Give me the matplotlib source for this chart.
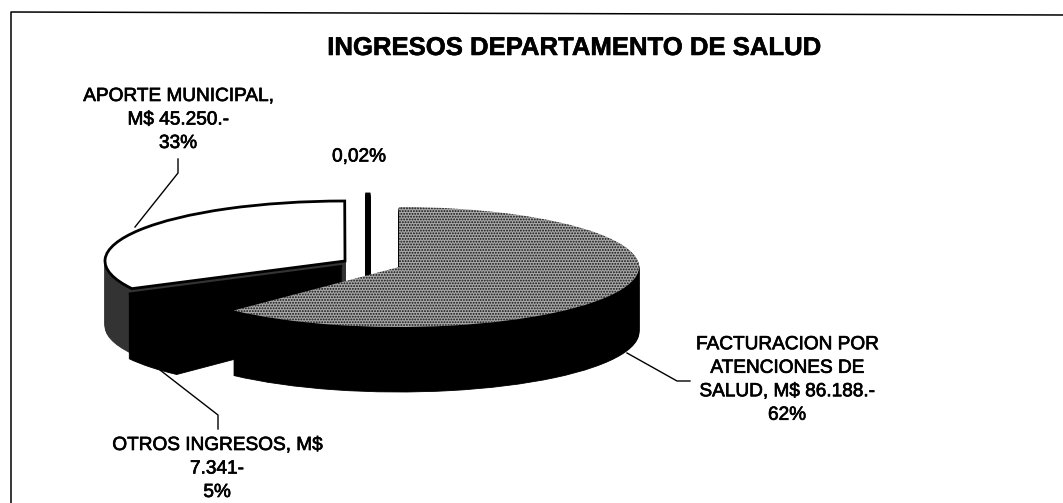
import matplotlib
matplotlib.use("Agg")
import matplotlib.pyplot as plt
import matplotlib.patheffects as pe

plt.rcParams['font.family'] = ['Liberation Sans', 'DejaVu Sans']
plt.rcParams['hatch.linewidth'] = 0.9

categories = ["FACTURACION POR\nATENCIONES DE\nSALUD, M$ 86.188.-\n62%",
              "OTROS INGRESOS, M$\n7.341-\n5%",
              "APORTE MUNICIPAL,\nM$ 45.250.-\n33%",
              "0,02%"]
values = [86188, 7341, 45250, 28]
title = "INGRESOS DEPARTAMENTO DE SALUD"

W, H = 1063, 503
RX, RY, DEPTH = 240, 60, 65
fig = plt.figure(figsize=(W / 100, H / 100), dpi=100, facecolor='white')
ax = fig.add_axes([0, 0, 1, 1])


def to_data(px, py):
    return (px / RX, (H - py) / RY)


def draw_slice(idx, px, py, side, top, edge='black', lw=1.5, hatch=None, hatch_col='black'):
    """Extrude one wedge of the pie by stacking pie layers downward."""
    for d in range(DEPTH, -1, -1):
        c = to_data(px, py + d)
        wedges, _ = ax.pie(values, startangle=90, counterclock=False, center=c, radius=1)
        for i, w in enumerate(wedges):
            if i != idx:
                w.remove()
            elif d == 0:
                w.set_facecolor(top)
                w.set_edgecolor(edge)
                w.set_linewidth(lw)
                if hatch:
                    w.set_hatch(hatch)
                    w.set_edgecolor(hatch_col)
                    w.set_linewidth(0)
            else:
                w.set_facecolor(side)
                w.set_edgecolor(side)
                w.set_linewidth(lw if idx == 3 else 0.6)


# back to front: aporte, sliver, otros, facturacion
draw_slice(2, 345, 261, '#333333', 'white', lw=2.0)
draw_slice(3, 368, 255, 'black', 'black', lw=3.5)
draw_slice(1, 342, 266, 'black', 'black')
draw_slice(0, 399, 267, 'black', '#a8a8a8', hatch='......', hatch_col='#111111')

ax.set_aspect('auto')
ax.set_xlim(0, W / RX)
ax.set_ylim(0, H / RY)
ax.set_axis_off()

ov = fig.add_axes([0, 0, 1, 1], facecolor='none')
ov.set_xlim(0, W)
ov.set_ylim(H, 0)
ov.set_axis_off()

# frame: left and top edges only
ov.plot([11, 11, 1063], [503, 12, 15], color='black', lw=1.1)

ov.text(575, 48, title, ha='center', va='center', fontsize=18.5, fontweight='bold', color='black',
        path_effects=[pe.withStroke(linewidth=0.4, foreground='black')])

label_pos = [(787, 380), (217, 469), (178, 120), (359, 157)]
for txt, (x, y) in zip(categories, label_pos):
    ov.text(x, y, txt, ha='center', va='center', fontsize=13.7, linespacing=1.5, color='black',
            path_effects=[pe.withStroke(linewidth=0.5, foreground='black')])

# leader lines
ov.plot([178, 178, 135], [159, 173, 227], color='black', lw=1)
ov.plot([627, 677, 690], [353, 381, 381], color='black', lw=1)
ov.plot([160, 218, 218], [370, 415, 429], color='black', lw=1)

fig.savefig('out.png', dpi=100, facecolor='white')
